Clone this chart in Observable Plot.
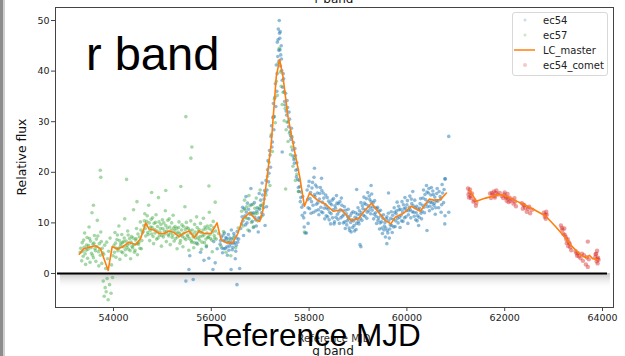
<!DOCTYPE html>
<html><head><meta charset="utf-8">
<script src="https://cdn.jsdelivr.net/npm/d3@7"></script>
<script src="https://cdn.jsdelivr.net/npm/@observablehq/plot@0.6"></script>
<style>
html,body{margin:0;padding:0;background:#fff;}
#wrap{position:relative;width:625px;height:356px;overflow:hidden;}
#wrap svg{position:absolute;left:0;top:0;}
</style></head><body><div id="wrap"></div>
<script>
const xTicks=[54000,56000,58000,60000,62000,64000];
const yTicks=[0,10,20,30,40,50];
const xDomain=[52814,64225];
const yDomain=[-6.72,52.57];
const zeroSpan=[52855,64102];
const legendLabels=["ec54","ec57","LC_master","ec54_comet"];

const lcMaster=[[53301,3.8],[53390,4.9],[53630,5.5],[53733,4.9],[53891,0.6],[53973,5.3],[54076,4.9],[54178,5.2],[54315,6.2],[54452,5.7],[54555,6.9],[54658,10.0],[54726,8.8],[54829,8.6],[54932,7.9],[55035,7.9],[55137,8.4],[55240,8.1],[55343,7.3],[55445,8.0],[55548,8.4],[55650,7.1],[55753,8.4],[55856,7.9],[55993,7.9],[56117,10.0],[56199,6.7],[56302,6.1],[56439,6.1],[56542,7.9],[56645,10.8],[56781,12.0],[56918,10.6],[56990,10.3],[57056,12.5],[57226,25.7],[57329,38.9],[57397,42.3],[57466,38.9],[57569,30.9],[57672,25.7],[57808,19.1],[57905,13.3],[58010,15.9],[58170,14.5],[58322,13.8],[58494,12.3],[58665,12.6],[58856,10.5],[59008,10.8],[59144,12.5],[59281,13.9],[59419,12.1],[59555,10.5],[59672,9.8],[59760,11.1],[59933,11.9],[60089,13.3],[60274,12.3],[60459,14.7],[60549,14.5],[60685,14.6],[60808,15.9]];
const lcMasterComet=[[61285,16.4],[61419,14.3],[61610,14.9],[61885,15.6],[62056,15.2],[62193,14.5],[62364,13.8],[62569,12.8],[62843,11.3],[63048,9.2],[63254,6.9],[63391,5.2],[63562,3.6],[63665,3.1],[63733,3.6],[63802,2.9],[63905,2.7]];

const ec57=[[53320,4.2],[53350,2.5],[53360,6.1],[53380,3.4],[53400,5.2],[53410,8.0],[53430,1.8],[53440,4.6],[53460,7.1],[53470,3.0],[53490,5.5],[53500,9.2],[53520,2.2],[53530,6.4],[53550,4.0],[53560,12.0],[53580,5.8],[53590,3.1],[53610,7.5],[53620,4.9],[53640,2.4],[53650,6.8],[53670,10.5],[53690,4.3],[53700,1.5],[53710,5.9],[53730,3.6],[53740,8.2],[53760,2.0],[53770,5.0],[53790,-1.5],[53800,3.8],[53810,-4.5],[53830,-2.8],[53840,1.0],[53850,-3.6],[53860,6.2],[53870,-1.0],[53880,2.9],[53890,-5.2],[53900,4.4],[53920,-2.2],[53930,7.0],[53950,-3.9],[53960,1.7],[53980,-0.8],[53990,3.5],[53730,20.4],[53740,19.0],[53589,13.5],
[53330,5.0],[53370,4.4],[53390,6.6],[53420,3.9],[53450,5.6],[53480,4.8],[53510,6.9],[53540,5.1],[53570,3.6],[53600,6.0],[53630,4.5],[53660,5.3],[53680,7.4],[53720,4.8],[53750,6.3],[53780,4.1],[53820,5.6],
[54010,5.5],[54030,8.1],[54050,3.2],[54070,6.7],[54090,4.5],[54110,9.4],[54130,2.8],[54150,5.9],[54170,7.7],[54190,4.1],[54210,6.3],[54230,10.8],[54250,3.6],[54270,5.2],[54290,8.4],[54310,4.8],[54330,6.9],[54350,2.9],[54370,7.3],[54390,5.1],[54410,12.6],[54430,4.2],[54450,6.6],[54470,8.9],[54490,3.7],[54510,5.8],[54530,7.2],[54550,10.2],[54570,4.9],[54590,8.0],[54267,18.6],[54480,14.2],
[54020,4.2],[54040,6.0],[54060,5.0],[54080,7.6],[54100,4.9],[54120,6.5],[54140,5.4],[54160,4.3],[54180,6.1],[54200,5.3],[54220,7.0],[54240,4.7],[54260,6.4],[54280,5.6],[54300,7.6],[54320,5.9],[54340,4.5],[54360,6.2],[54380,5.4],[54400,7.0],[54420,5.7],[54440,4.6],[54460,6.9],[54480,5.9],[54500,7.8],[54520,6.2],[54540,5.0],[54560,8.6],[54580,6.5],
[54620,9.5],[54640,11.8],[54660,7.4],[54680,10.3],[54700,8.1],[54720,13.5],[54740,6.5],[54760,9.2],[54780,7.8],[54800,11.0],[54820,5.9],[54840,8.7],[54860,10.1],[54880,6.8],[54900,9.3],[54920,15.0],[54940,7.5],[54960,8.9],[54980,5.4],[55000,10.6],[55020,7.2],[55040,8.4],[55060,12.4],[55080,6.3],[55100,9.0],[55120,7.7],[55140,10.8],[55160,5.7],[55180,8.6],[55200,7.1],[55220,11.5],[55240,6.4],[55260,9.3],[55280,7.9],[55300,4.9],[55320,8.2],[55340,10.2],[55360,6.0],[55380,7.6],[55400,9.6],[55420,5.3],[55440,8.0],[55460,13.2],[55480,6.7],[55500,9.1],[55520,7.3],[55540,4.6],[55560,8.5],[55580,10.4],[55600,6.2],[55620,7.8],[55640,5.1],[55660,9.7],[55680,7.0],[55700,11.2],[55720,5.8],[55740,8.3],[55760,6.6],[55780,9.9],[55800,4.8],[55820,7.4],[55840,10.9],[55860,6.1],[55880,8.8],[55900,5.5],[55920,9.4],[55940,7.2],[55960,12.1],[55980,6.9],[56000,8.6],[56020,4.3],[56040,10.3],[56060,7.5],[56080,14.1],[56100,6.8],[55480,31.0],[55603,25.0],[55582,22.8],[55069,16.4],[55377,17.2],[55952,17.3],[54780,16.0],
[54610,8.3],[54630,10.4],[54650,8.9],[54670,9.6],[54690,11.4],[54710,7.7],[54730,10.0],[54750,8.5],[54770,10.7],[54790,9.1],[54810,7.3],[54830,9.9],[54850,8.0],[54870,11.6],[54890,8.4],[54910,7.0],[54930,10.2],[54950,8.2],[54970,9.7],[54990,7.5],[55010,8.9],[55030,10.0],[55050,7.8],[55070,9.5],[55090,8.3],[55110,10.5],[55130,7.4],[55150,9.2],[55170,8.0],[55190,10.0],[55210,7.6],[55230,9.0],[55250,8.5],[55270,6.9],[55290,8.9],[55310,7.2],[55330,9.1],[55350,7.9],[55370,6.5],[55390,8.6],[55410,7.3],[55430,9.3],[55450,7.0],[55470,8.7],[55490,10.1],[55510,7.6],[55530,8.9],[55550,6.9],[55570,8.0],[55590,6.5],[55610,8.6],[55630,7.2],[55650,6.1],[55670,8.2],[55690,7.6],[55710,9.1],[55730,7.0],[55750,8.7],[55770,7.3],[55790,8.1],[55810,6.2],[55830,8.6],[55850,7.6],[55870,9.2],[55890,6.8],[55910,8.0],[55930,7.1],[55950,8.9],[55970,7.7],[55990,9.5],[56010,6.6],[56030,8.2],[56050,9.1],[56070,7.0],[56090,8.4],
[56150,7.9],[56200,5.4],[56250,8.3],[56300,4.2],[56350,6.6],[56400,3.5],[56450,7.0],[56500,5.1],[56550,9.0],
[56620,12.3],[56650,9.4],[56680,14.5],[56700,11.0],[56720,13.2],[56750,8.6],[56770,15.4],[56800,12.0],[56820,10.1],[56850,13.7],[56870,9.3],[56900,11.8],[56920,14.9],[56950,10.4],[56980,12.9],[57000,16.5],[57030,11.3],[57060,13.8],[56690,12.6],[56740,10.9],[56790,13.4],[56840,11.6],[56890,12.9],[56940,11.9],[57010,13.5],
[57120,15.5],[57150,19.2],[57180,22.0],[57200,17.4],[57230,27.5],[57250,24.1],[57270,31.0],[57290,34.5],[57310,29.8],[57330,38.0],[57350,35.2],[57370,41.6],[57390,44.5],[57410,39.8],[57430,37.0],[57450,33.4],[57470,35.8],[57490,30.2],[57510,32.6],[57530,28.4],[57550,29.9],[57570,26.1],[57600,27.7],[57620,23.5],[57640,25.0],[57670,21.2],[57700,22.8],[57720,18.4],[57750,19.6],[57780,16.2],[57520,16.7],[57905,8.2]];

const ec54=[[55480,-1.5],[55543,0.8],[55560,3.5],[55630,-1.2],[55700,6.0],[55780,4.2],[55850,2.6],[55900,5.3],[55950,3.0],[56034,0.8],[56050,6.3],[56080,2.1],[56120,4.9],
[56180,5.8],[56210,7.2],[56230,4.1],[56250,6.5],[56270,8.0],[56290,5.0],[56310,6.9],[56330,3.6],[56350,7.7],[56370,5.4],[56390,6.2],[56410,8.6],[56430,4.7],[56450,6.0],[56470,7.4],[56490,2.9],[56510,5.6],[56530,8.3],[56560,6.8],[56580,1.0],[56405,0.8],[56525,-2.2],
[56190,6.5],[56220,5.0],[56240,7.6],[56260,4.9],[56280,6.4],[56300,7.1],[56320,5.3],[56340,6.1],[56360,4.6],[56380,7.0],[56400,5.9],[56420,6.8],[56440,5.2],[56460,7.9],[56480,6.1],[56500,4.4],[56520,7.0],[56540,6.2],
[56620,9.8],[56640,13.1],[56660,7.5],[56690,11.4],[56710,15.2],[56730,10.0],[56760,12.7],[56780,8.4],[56810,16.8],[56830,11.9],[56860,9.1],[56880,14.0],[56910,10.6],[56930,12.3],[56960,8.2],[56980,15.8],[57000,10.9],[57020,13.4],[57040,17.9],[57060,11.6],[57080,14.7],[57100,9.5],
[56600,8.9],[56630,11.2],[56650,10.4],[56670,12.8],[56700,9.6],[56720,12.1],[56740,13.9],[56770,10.8],[56790,11.7],[56820,13.6],[56840,10.3],[56870,12.0],[56890,11.1],[56920,9.4],[56940,13.0],[56970,11.0],[56990,12.7],[57010,14.5],[57030,12.0],[57050,15.5],[57070,13.0],[57090,16.4],
[57110,16.0],[57130,13.2],[57150,20.5],[57170,18.1],[57190,24.3],[57210,21.0],[57230,29.2],[57250,26.0],[57270,33.6],[57290,31.0],[57310,37.5],[57330,41.2],[57340,36.0],[57350,45.7],[57360,42.9],[57370,48.3],[57380,44.1],[57390,50.0],[57400,46.5],[57410,47.8],[57420,43.2],[57430,45.0],
[57120,18.4],[57140,16.5],[57160,22.3],[57180,19.8],[57200,23.4],[57220,27.1],[57240,25.0],[57260,30.8],[57280,28.4],[57300,34.8],[57320,33.0],[57345,39.5],[57365,46.2],[57385,42.0],[57395,47.5],[57405,44.2],[57415,41.0],[57435,42.4],[57450,38.2],[57470,39.5],[57490,35.9],[57510,33.3],[57530,32.1],[57550,34.2],[57570,30.0],[57590,31.9],[57610,28.0],[57630,26.5],[57650,27.0],[57670,23.2],[57690,22.5],[57710,24.7],[57730,20.4],[57750,21.9],[57770,18.6],[57790,16.2],[57810,17.2],[57830,15.0],[57850,13.1],[57870,15.2],[57890,11.0],
[57440,40.1],[57460,36.8],[57480,38.5],[57500,34.0],[57520,35.6],[57540,31.3],[57560,32.8],[57580,29.0],[57600,30.5],[57620,27.2],[57640,28.7],[57660,24.4],[57680,25.9],[57700,21.8],[57720,23.3],[57740,19.1],[57760,20.6],[57780,17.0],[57800,18.4],[57820,14.2],[57840,16.1],[57860,11.5],[57880,13.6],[57900,9.2],[57910,12.0],[57920,8.0],[57450,24.0],[57946,8.0],[57980,9.9],
[57960,16.5],[57980,13.0],[58000,18.2],[58020,14.8],[58040,11.9],[58060,16.9],[58080,13.5],[58100,19.0],[58120,15.2],[58140,12.4],[58160,17.1],[58180,14.0],[58200,11.6],[58220,15.8],[58240,13.1],[58260,16.4],[58280,12.0],[58300,14.9],[58320,10.8],[58340,15.5],[58360,13.0],[58380,11.2],[58400,14.3],[58420,12.1],[58440,9.8],[58460,13.6],[58480,11.0],[58500,14.8],[58520,10.2],[58540,12.9],[58560,15.4],[58580,11.7],[58600,13.8],[58620,9.9],[58640,12.6],[58660,14.9],[58680,11.3],[58700,10.0],[58720,13.2],[58740,8.9],[58760,11.8],[58780,10.4],[58800,12.7],[58820,9.0],[58840,11.4],[58860,8.2],[58880,10.6],[58900,12.2],[58920,9.5],[58940,11.1],[58960,8.7],[58980,10.9],[59000,13.0],[59020,9.8],[59040,11.6],[59060,14.0],[59080,10.5],[59100,12.8],[59120,15.1],[59140,11.3],[59160,13.7],[59180,10.9],[59200,16.0],[59220,12.4],[59240,14.6],[59260,11.8],[59280,15.7],[59300,13.2],[59320,10.8],[59340,14.4],[59360,12.0],[59380,9.9],[59400,13.1],[59420,11.0],[59440,8.8],[59460,12.5],[59480,10.2],[59500,7.9],[59520,11.6],[59540,9.4],[59560,7.2],[59580,10.8],[59600,8.5],[59620,11.9],[59640,7.0],[59660,9.6],[59680,12.2],[59700,8.1],[59720,10.7],[59740,13.0],[59760,9.3],[59780,11.8],[59800,14.1],[59820,10.0],[59840,12.6],[59860,9.1],[59880,11.5],[59900,14.2],[59920,10.3],[59940,12.8],[59960,15.0],[59980,11.2],[60000,13.6],[60020,9.9],[60040,12.4],[60060,15.3],[60080,11.0],[60100,13.8],[60120,16.2],[60140,12.1],[60160,14.5],[60180,10.6],[60200,13.3],[60220,11.4],[60240,9.5],[60260,12.9],[60280,14.8],[60300,10.8],[60320,13.5],[60340,16.5],[60360,12.0],[60380,14.6],[60400,17.4],[60420,13.2],[60440,15.9],[60460,12.4],[60480,14.1],[60500,17.0],[60520,12.8],[60540,15.6],[60560,13.9],[60580,11.7],[60600,14.4],[60620,16.8],[60650,13.0],[60680,15.2],[60700,12.1],[60720,17.6],[60750,14.0],[60780,11.4],
[57970,14.6],[57990,17.3],[58010,12.8],[58030,16.0],[58050,14.2],[58070,18.0],[58090,12.1],[58110,15.6],[58130,17.5],[58150,13.7],[58170,15.9],[58190,12.6],[58210,14.7],[58230,17.0],[58250,12.2],[58270,14.1],[58290,15.9],[58310,12.9],[58330,13.6],[58350,11.4],[58370,15.0],[58390,12.7],[58410,10.6],[58430,13.9],[58450,11.8],[58470,14.5],[58490,12.6],[58510,9.8],[58530,13.4],[58550,11.1],[58570,13.9],[58590,10.7],[58610,12.2],[58630,14.2],[58650,11.0],[58670,13.5],[58690,12.4],[58710,11.6],[58730,10.2],[58750,12.5],[58770,9.6],[58790,11.2],[58810,10.8],[58830,8.5],[58850,10.1],[58870,11.9],[58890,9.1],[58910,10.4],[58930,8.4],[58950,12.0],[58970,9.9],[58990,11.7],[59010,10.3],[59030,12.4],[59050,10.9],[59070,12.0],[59090,13.4],[59110,11.5],[59130,13.9],[59150,12.6],[59170,14.8],[59190,12.1],[59210,13.4],[59230,15.3],[59250,13.0],[59270,14.2],[59290,12.5],[59310,14.0],[59330,11.7],[59350,13.0],[59370,11.3],[59390,12.8],[59410,10.5],[59430,12.3],[59450,10.0],[59470,11.4],[59490,9.0],[59510,10.9],[59530,8.6],[59550,10.1],[59570,9.0],[59590,11.2],[59610,8.0],[59630,10.4],[59650,8.8],[59670,10.9],[59690,9.5],[59710,11.5],[59730,9.2],[59750,12.1],[59770,10.4],[59790,12.4],[59810,10.9],[59830,13.3],[59850,11.1],[59870,12.7],[59890,10.4],[59910,12.2],[59930,13.6],[59950,11.0],[59970,13.0],[59990,12.4],[60010,14.4],[60030,11.6],[60050,13.1],[60070,12.6],[60090,14.7],[60110,12.2],[60130,13.4],[60150,11.3],[60170,13.0],[60190,12.0],[60210,10.4],[60230,12.7],[60250,11.1],[60270,13.8],[60290,11.9],[60310,12.3],[60330,14.9],[60350,13.1],[60370,15.6],[60390,13.7],[60410,16.1],[60430,14.2],[60450,16.8],[60470,13.3],[60490,15.5],[60510,14.0],[60530,16.3],[60550,13.5],[60570,15.1],[60590,13.0],[60610,15.8],[60630,14.3],[60660,16.2],[60690,14.7],[60710,13.6],[60730,15.9],[60760,16.6],
[60856,27.1],[60787,18.7],[59041,5.7],[59060,5.3],[59624,15.9],[59590,5.9],[60856,12.1],[60775,9.8],[60411,8.5],[60775,18.7],[59268,17.4],[58973,16.6],[58110,20.8],[58254,18.8]];

const ec54_comet=[[61250,16.8],[61260,15.6],[61280,16.1],[61300,15.3],[61310,14.9],[61330,15.8],[61360,14.2],[61380,14.5],[61410,13.4],[61420,14.0],[61700,15.8],[61720,14.9],[61750,15.5],[61780,16.2],[61800,15.0],[61830,16.4],[61860,15.6],[61900,15.9],[61940,15.3],[61970,14.9],[62000,16.0],[62020,15.2],[62040,14.4],[62060,15.7],[62080,14.1],[62100,15.0],[62150,14.6],[62180,13.8],[62200,14.9],[62230,13.3],[62350,13.9],[62370,12.8],[62400,13.5],[62450,12.2],[62500,13.2],[62520,11.9],[62560,12.6],[62800,12.0],[62820,11.2],[62840,10.8],[62860,11.6],[63150,9.5],[63180,8.6],[63200,7.8],[63220,8.9],[63250,7.2],[63270,6.0],[63290,6.8],[63300,5.4],[63330,5.9],[63360,4.6],[63450,4.4],[63480,3.5],[63500,4.0],[63550,3.0],[63600,2.5],[63620,3.6],[63700,6.3],[63660,1.8],[63680,3.2],[63700,1.3],[63720,2.8],[63860,3.8],[63880,2.4],[63890,4.5],[63900,2.0],[63910,3.1],[63920,2.7],
[61270,15.0],[61290,16.6],[61740,15.9],[61790,15.3],[61820,15.9],[61990,15.6],[62030,15.0],[62070,14.8],[62120,14.3],[62210,14.2],[62380,13.6],[62420,13.0],[62480,12.8],[62830,11.6],[62850,12.2],[63170,9.0],[63230,7.6],[63260,6.7],[63310,6.2],[63340,5.2],[63470,4.0],[63520,3.4],[63580,3.9],[63850,3.2],[63870,3.9],[63895,2.9]];

const C={ec54:"#1f77b4",ec57:"#2ca02c",master:"#ff7f0e",comet:"#d62728"};
const X=d=>d[0], Y=d=>d[1];

const plot=Plot.plot({
  width:625,height:356,
  marginLeft:55,marginRight:12,marginTop:7,marginBottom:49,
  style:{fontFamily:"'DejaVu Sans',sans-serif",fontSize:"9.5px",color:"#222",background:"transparent"},
  x:{domain:xDomain},
  y:{domain:yDomain},
  marks:[
    Plot.rect([0],{x1:()=>zeroSpan[0]+60,x2:()=>zeroSpan[1]+60,y1:0,y2:-3.2,fill:"url(#shadowGrad)"}),
    Plot.dot(ec54,{x:X,y:Y,r:1.8,fill:C.ec54,fillOpacity:0.5}),
    Plot.dot(ec57,{x:X,y:Y,r:1.8,fill:C.ec57,fillOpacity:0.42}),
    Plot.dot(ec54_comet,{x:X,y:Y,r:2.2,fill:C.comet,fillOpacity:0.45}),
    Plot.line(lcMaster,{x:X,y:Y,stroke:C.master,strokeWidth:1.6}),
    Plot.line(lcMasterComet,{x:X,y:Y,stroke:C.master,strokeWidth:1.6}),
    Plot.ruleY([0],{x1:zeroSpan[0],x2:zeroSpan[1],stroke:"#000",strokeWidth:2}),
    Plot.frame({stroke:"#444",strokeWidth:1}),
    Plot.axisX({ticks:xTicks,tickFormat:d3.format("d"),tickSize:4,tickPadding:3,label:null,stroke:"#444"}),
    Plot.axisY({ticks:yTicks,tickFormat:d3.format("d"),tickSize:4,tickPadding:2,label:null,stroke:"#444"})
  ]
});
const svgSel=d3.select(plot);
const defs=svgSel.insert("defs",":first-child");
const g=defs.append("linearGradient").attr("id","shadowGrad").attr("x1",0).attr("y1",0).attr("x2",0).attr("y2",1);
g.append("stop").attr("offset","0").attr("stop-color","#bdbdbd").attr("stop-opacity",0.9);
g.append("stop").attr("offset","1").attr("stop-color","#ffffff").attr("stop-opacity",0);
document.getElementById("wrap").appendChild(plot);

// overlay texts
const ov=d3.select("#wrap").append("svg").attr("width",625).attr("height",356);
ov.append("rect").attr("x",0).attr("y",0).attr("width",3).attr("height",356).attr("fill","#8c8c8c");
ov.append("rect").attr("x",3).attr("y",0).attr("width",2).attr("height",356).attr("fill","#d0d0d0");
ov.append("rect").attr("x",10).attr("y",104).attr("width",29).attr("height",100).attr("fill","#fff");
ov.append("text").attr("transform","translate(26,157) rotate(-90)").attr("text-anchor","middle")
  .attr("font-family","'DejaVu Sans',sans-serif").attr("font-size",12.4).attr("fill","#111").text("Relative flux");
ov.append("text").attr("x",334).attr("y",3).attr("text-anchor","middle")
  .attr("font-family","'DejaVu Sans',sans-serif").attr("font-size",12).attr("fill","#111").text("r band");
ov.append("text").attr("x",334).attr("y",342).attr("text-anchor","middle")
  .attr("font-family","'DejaVu Sans',sans-serif").attr("font-size",10).attr("fill","#333").text("Reference MJD");
ov.append("text").attr("x",333).attr("y",355).attr("text-anchor","middle")
  .attr("font-family","'DejaVu Sans',sans-serif").attr("font-size",12).attr("fill","#111").text("g band");
ov.append("text").attr("x",86).attr("y",70)
  .attr("font-family","'Liberation Sans',Arial,sans-serif").attr("font-size",47).attr("fill","#000").text("r band");
ov.append("text").attr("x",202).attr("y",346)
  .attr("font-family","'Liberation Sans',Arial,sans-serif").attr("font-size",31.5).attr("fill","#000").text("Reference MJD");

// legend
const lg=ov.append("g").attr("transform","translate(512,12)");
lg.append("rect").attr("x",0.5).attr("y",0.5).attr("width",95).attr("height",63).attr("rx",2.5)
  .attr("fill","#fff").attr("fill-opacity",0.85).attr("stroke","#d8d8d8");
const lgColors=[C.ec54,C.ec57,C.master,C.comet];
legendLabels.forEach((lab,i)=>{
  const cy=8+15*i;
  if(lab==="LC_master"){
    lg.append("line").attr("x1",2).attr("x2",23).attr("y1",cy).attr("y2",cy).attr("stroke",C.master).attr("stroke-width",1.5);
  } else {
    lg.append("circle").attr("cx",13).attr("cy",cy).attr("r",lab==="ec54_comet"?2:1.5).attr("fill",lgColors[i]).attr("fill-opacity",0.25);
  }
  lg.append("text").attr("x",31).attr("y",cy+3.5).attr("font-family","'DejaVu Sans',sans-serif")
    .attr("font-size",10).attr("fill","#222").text(lab);
});
</script></body></html>
